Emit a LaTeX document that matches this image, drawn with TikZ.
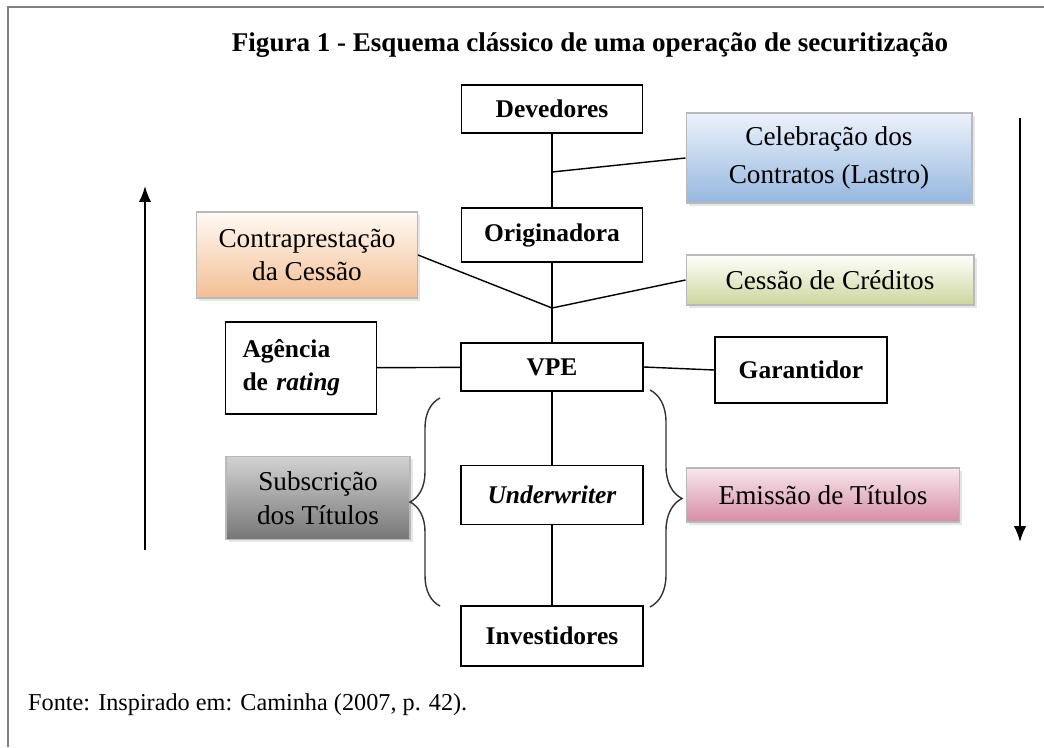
\documentclass[tikz,border=0pt]{standalone}
\usepackage{fontspec}
\setmainfont{Liberation Serif}
\usetikzlibrary{arrows.meta,decorations.pathreplacing,shadows}

\definecolor{celebtop}{RGB}{236,242,251}
\definecolor{celebbot}{RGB}{150,183,224}
\definecolor{contratop}{RGB}{255,250,244}
\definecolor{contrabot}{RGB}{243,190,148}
\definecolor{cessaotop}{RGB}{255,255,252}
\definecolor{cessaobot}{RGB}{204,214,158}
\definecolor{subtop}{RGB}{210,210,210}
\definecolor{subbot}{RGB}{118,118,118}
\definecolor{emistop}{RGB}{248,232,236}
\definecolor{emisbot}{RGB}{214,140,166}

\begin{document}
\begin{tikzpicture}[x=0.02cm, y=-0.02cm,
        mainbox/.style={draw, line width=0.8pt, fill=white, inner sep=0pt,
            font=\fontsize{14.5}{18}\selectfont\bfseries, align=center},
        notebox/.style={draw=gray!55, line width=0.6pt, inner sep=0pt,
            font=\fontsize{15.5}{19}\selectfont, align=center,
            drop shadow={opacity=0.2, shadow xshift=1.5pt, shadow yshift=-1.5pt}},
        link/.style={line width=0.8pt},
        bracket/.style={line width=0.8pt, draw=black!80,
            decorate, decoration={brace, amplitude=#1}},
        flow/.style={line width=1pt, -{Latex[length=9pt, width=7pt]}}
    ]
    \useasboundingbox (0,0) rectangle (1044,747);

    % Moldura
    \draw[gray, line width=1pt] (8,747) -- (8,7) -- (1044,7);

    % Titulo e fonte
    \node[font=\fontsize{15.4}{18}\selectfont\bfseries] (titulo) at (590,45)
        {Figura 1 - Esquema cl\'assico de uma opera\c{c}\~ao de securitiza\c{c}\~ao};
    \node[font=\fontsize{13.8}{16}\selectfont, anchor=west] (fonte) at (22,705)
        {Fonte: Inspirado em: Caminha (2007, p. 42).};

    % Eixo central
    \node[mainbox, minimum width=3.62cm, minimum height=0.96cm] (dev) at (552,109) {Devedores};
    \node[mainbox, minimum width=3.62cm, minimum height=1.08cm] (orig) at (552,235) {Originadora};
    \node[mainbox, minimum width=3.64cm, minimum height=0.96cm] (vpe) at (552,367) {VPE};
    \node[mainbox, minimum width=3.64cm, minimum height=1.18cm] (under) at (552,495) {\textit{Underwriter}};
    \node[mainbox, minimum width=3.64cm, minimum height=1.20cm] (invest) at (552,636) {Investidores};

    % Laterais
    \node[mainbox, align=left, text width=2.34cm, inner xsep=0.34cm,
        minimum height=1.84cm] (rating) at (301,368) {Ag\^encia\\[1pt]de \textit{rating}};
    \node[mainbox, minimum width=3.44cm, minimum height=1.32cm] (garant) at (801,370) {Garantidor};

    % Notas coloridas
    \node[notebox, top color=celebtop, bottom color=celebbot,
        minimum width=5.72cm, minimum height=1.80cm] (celeb) at (829,158)
        {Celebra\c{c}\~ao dos\\[3pt]Contratos (Lastro)};
    \node[notebox, top color=contratop, bottom color=contrabot,
        minimum width=4.42cm, minimum height=1.72cm] (contra) at (307,255)
        {Contrapresta\c{c}\~ao\\da Cess\~ao};
    \node[notebox, top color=cessaotop, bottom color=cessaobot,
        minimum width=5.76cm, minimum height=1.00cm] (cessao) at (830,280)
        {Cess\~ao de Cr\'editos};
    \node[notebox, top color=subtop, middle color=gray!12, bottom color=subbot,
        minimum width=3.68cm, minimum height=1.66cm] (subscr) at (318,498)
        {Subscri\c{c}\~ao\\dos T\'itulos};
    \node[notebox, top color=emistop, bottom color=emisbot,
        minimum width=5.46cm, minimum height=1.08cm] (emissao) at (823,495)
        {Emiss\~ao de T\'itulos};

    % Pontos de juncao
    \coordinate (j1) at (552,172);
    \coordinate (j2) at (552,308);

    % Ligacoes
    \draw[link] (dev) -- (orig);
    \draw[link] (j1) -- (celeb.west);
    \draw[link] (orig) -- (vpe);
    \draw[link] (contra.east) -- (j2) -- (cessao.west);
    \draw[link] (rating) -- (vpe);
    \draw[link] (vpe.east) -- (garant.west);
    \draw[link] (vpe) -- (under);
    \draw[link] (under) -- (invest);

    % Chaves
    \draw[bracket=0.6cm] (440,606) -- (440,398);
    \draw[bracket=0.64cm] (650,390) -- (650,607);

    % Setas de fluxo
    \coordinate (sobe0) at (145,550);
    \coordinate (sobe1) at (145,186);
    \coordinate (desce0) at (1020,118);
    \coordinate (desce1) at (1020,542);
    \draw[flow] (sobe0) -- (sobe1);
    \draw[flow] (desce0) -- (desce1);
\end{tikzpicture}
\end{document}
